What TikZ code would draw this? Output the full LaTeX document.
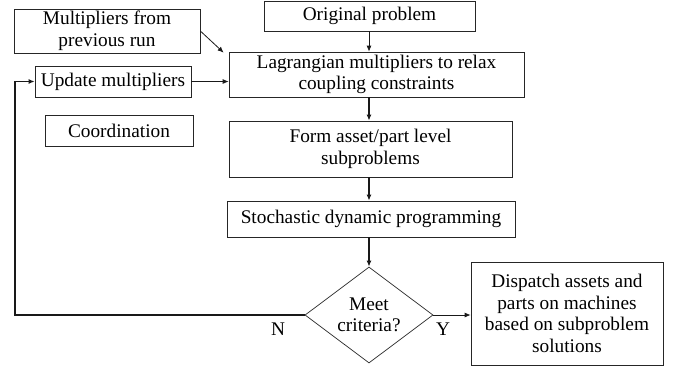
\documentclass[tikz,border=0pt]{standalone}
\usepackage{fontspec}
\setmainfont{Liberation Serif}
\usetikzlibrary{shapes.geometric,arrows.meta,calc}
\begin{document}
\begin{tikzpicture}[x=1pt,y=-1pt,
  box/.style={draw=black!85,line width=0.7pt,align=center,inner sep=0pt,
    font=\fontsize{19.3}{21.5}\selectfont},
  lbl/.style={font=\fontsize{19.3}{21.5}\selectfont,inner sep=0pt},
  arr/.style={-{Latex[length=6pt,width=5pt]},line width=0.8pt,black!90},
  thickarr/.style={-{Latex[length=6pt,width=5pt]},line width=1.6pt,black!90}]
\useasboundingbox (0,0) rectangle (680,368);
\node[box,minimum width=211pt,minimum height=30pt] (orig) at (369.5,16) {Original problem};
\node[box,minimum width=295pt,minimum height=45pt] (lag) at (376.5,74.5) {Lagrangian multipliers to relax\\coupling constraints};
\node[box,minimum width=283pt,minimum height=56pt] (form) at (370.5,149) {Form asset/part level\\subproblems};
\node[box,minimum width=288pt,minimum height=36pt] (stoch) at (371,219) {Stochastic dynamic programming};
\node[box,diamond,shape aspect=1.333,minimum width=128pt,minimum height=96pt] (dia) at (369,315) {Meet\\criteria?};
\node[box,minimum width=192pt,minimum height=103pt] (disp) at (567,313.5) {Dispatch assets and\\parts on machines\\based on subproblem\\solutions};
\node[box,minimum width=186pt,minimum height=44pt] (mult) at (107,31) {Multipliers from\\previous run};
\node[box,minimum width=156pt,minimum height=31pt] (upd) at (113,81.5) {Update multipliers};
\node[box,minimum width=148pt,minimum height=31pt] (coord) at (119,130.5) {Coordination};
\node[lbl] (n) at (278,329) {N};
\node[lbl] (y) at (443,329) {Y};
\coordinate (fb) at (15,0);
\draw[arr] (orig.south -| dia.north) -- (lag.north -| dia.north);
\draw[thickarr] (lag.south -| dia.north) -- (form.north -| dia.north);
\draw[thickarr] (form.south -| dia.north) -- (stoch.north -| dia.north);
\draw[thickarr] (stoch.south -| dia.north) -- (dia.north);
\draw[arr] (mult.east) -- ($(lag.north west)+(-5,1)$);
\draw[arr] (upd.east) -- (upd.east -| lag.west);
\draw[arr] (dia.east) -- (dia.east -| disp.west);
\draw[thickarr] (dia.west) -| (fb |- upd.west) -- (upd.west);
\end{tikzpicture}
\end{document}
